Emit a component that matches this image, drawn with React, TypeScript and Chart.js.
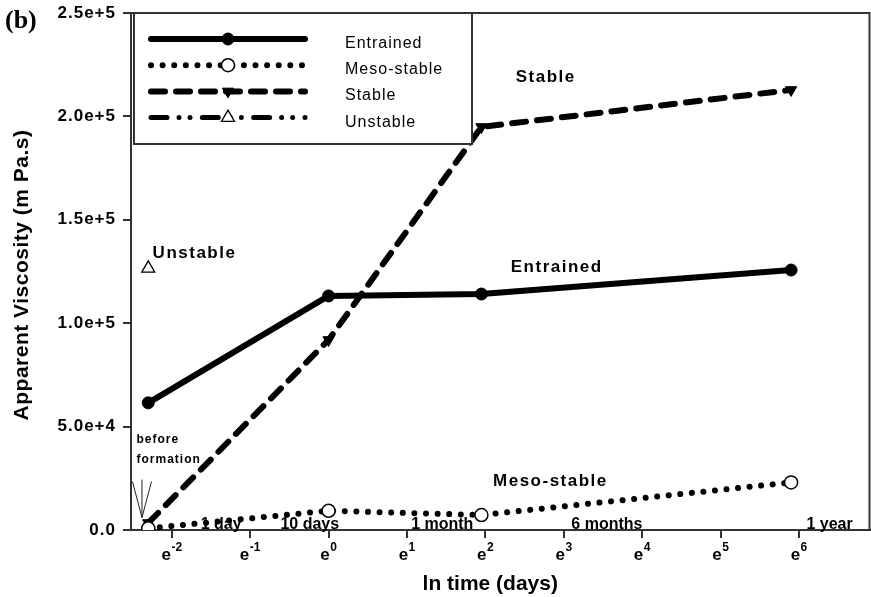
import { useEffect, useRef } from 'react';
import { Chart, registerables } from 'chart.js';

Chart.register(...registerables);

// Sampling times as ln(days): 0.1 day, 1 day, 7 days, 365 days
const timeLn = [-2.3, 0, 1.95, 5.9];

// Apparent viscosity (m Pa.s) of each emulsion type
const entrained = [61500, 113200, 114100, 125700];
const mesoStable = [800, 9300, 7250, 23000];
const stable = [3400, 91900, 194900, 212800];
const unstableTime = [-2.3];
const unstable = [126500];

// Axis ticks
const xTickPowers = [-2, -1, 0, 1, 2, 3, 4, 5, 6];
const yTicks = [0, 50000, 100000, 150000, 200000, 250000];
const yTickLabels = ['0.0', '5.0e+4', '1.0e+5', '1.5e+5', '2.0e+5', '2.5e+5'];

// Calendar hints written along the time axis
const timeMarks = ['1 day', '10 days', '1 month', '6 months', '1 year'];
const timeMarkX = [-1.37, -0.24, 1.45, 3.55, 6.39];

// In-plot curve names
const curveNames = ['Stable', 'Unstable', 'Entrained', 'Meso-stable'];
const curveNameX = [2.77, -1.71, 2.91, 2.83];
const curveNameY = [216600, 131500, 124800, 21300];

// "before formation" note and its arrow
const noteLines = ['before', 'formation'];
const noteX = -2.45;
const noteY = [42100, 32400];
const arrowTip = { x: -2.38, y: 6000 };

const SANS = '"Liberation Sans", Arial, Helvetica, sans-serif';
const SERIF = '"Liberation Serif", "Times New Roman", serif';
const AXIS_COLOR = '#333';

function pts(xs: number[], ys: number[]) {
  return xs.map((x, i) => ({ x, y: ys[i] }));
}

function drawMarker(ctx: CanvasRenderingContext2D, ds: any, x: number, y: number) {
  const r = ds.pointRadius;
  ctx.save();
  ctx.fillStyle = ds.pointBackgroundColor;
  ctx.strokeStyle = ds.pointBorderColor;
  ctx.lineWidth = ds.pointBorderWidth;
  ctx.setLineDash([]);
  ctx.beginPath();
  if (ds.pointStyle === 'triangle') {
    const rot = ((ds.pointRotation || 0) * Math.PI) / 180;
    for (let k = 0; k < 3; k++) {
      const a = rot + (k * 2 * Math.PI) / 3;
      const px = x + Math.sin(a) * r;
      const py = y - Math.cos(a) * r;
      if (k === 0) ctx.moveTo(px, py);
      else ctx.lineTo(px, py);
    }
    ctx.closePath();
  } else {
    ctx.arc(x, y, r, 0, Math.PI * 2);
  }
  ctx.fill();
  ctx.stroke();
  ctx.restore();
}

const decorPlugin = {
  id: 'decor',
  beforeDraw(chart: any) {
    chart.ctx.letterSpacing = '1px';
  },
  afterDraw(chart: any) {
    const ctx: CanvasRenderingContext2D = chart.ctx;
    const { left, right, top, bottom } = chart.chartArea;
    const xs = chart.scales.x;
    const ys = chart.scales.y;
    ctx.save();
    (ctx as any).letterSpacing = '0px';

    // top and right edges of the plot frame
    ctx.strokeStyle = AXIS_COLOR;
    ctx.lineWidth = 2;
    ctx.beginPath();
    ctx.moveTo(left, top);
    ctx.lineTo(right, top);
    ctx.lineTo(right, bottom);
    ctx.stroke();

    // x tick labels: e with a raised exponent
    ctx.fillStyle = '#000';
    ctx.textAlign = 'left';
    ctx.textBaseline = 'alphabetic';
    xTickPowers.forEach((p) => {
      const px = xs.getPixelForValue(p);
      const sup = p < 0 ? '-' + Math.abs(p) : String(p);
      ctx.font = `bold 17px ${SANS}`;
      const we = ctx.measureText('e').width;
      ctx.font = `bold 12px ${SANS}`;
      const wsup = ctx.measureText(sup).width;
      const x0 = px - (we + wsup + 0.5) / 2;
      ctx.font = `bold 17px ${SANS}`;
      ctx.fillText('e', x0, bottom + 30);
      ctx.font = `bold 12px ${SANS}`;
      ctx.fillText(sup, x0 + we + 0.5, bottom + 21);
    });

    // axis titles
    ctx.font = `bold 21px ${SANS}`;
    ctx.textAlign = 'center';
    ctx.fillText('ln time (days)', (left + right) / 2 - 10, bottom + 60);
    ctx.save();
    ctx.translate(28, 275);
    ctx.rotate(-Math.PI / 2);
    (ctx as any).letterSpacing = '0.5px';
    ctx.fillText('Apparent Viscosity (m Pa.s)', 0, 0);
    ctx.restore();

    // panel tag
    ctx.font = `bold 26px ${SERIF}`;
    ctx.textAlign = 'left';
    ctx.fillText('(b)', 5, 28);

    // calendar hints
    ctx.font = `bold 16px ${SANS}`;
    ctx.textAlign = 'center';
    timeMarks.forEach((t, i) => {
      ctx.fillText(t, xs.getPixelForValue(timeMarkX[i]), bottom - 1);
    });

    // curve names
    ctx.font = `bold 17px ${SANS}`;
    (ctx as any).letterSpacing = '1.5px';
    curveNames.forEach((t, i) => {
      ctx.fillText(t, xs.getPixelForValue(curveNameX[i]), ys.getPixelForValue(curveNameY[i]));
    });

    // note with arrow
    ctx.font = `bold 12px ${SANS}`;
    (ctx as any).letterSpacing = '1px';
    ctx.textAlign = 'left';
    noteLines.forEach((t, i) => {
      ctx.fillText(t, xs.getPixelForValue(noteX), ys.getPixelForValue(noteY[i]));
    });
    const tx = xs.getPixelForValue(arrowTip.x);
    const ty = ys.getPixelForValue(arrowTip.y);
    ctx.strokeStyle = '#222';
    ctx.lineWidth = 1;
    ctx.beginPath();
    ctx.moveTo(tx, ty - 38);
    ctx.lineTo(tx, ty);
    ctx.moveTo(tx - 9.5, ty - 36);
    ctx.lineTo(tx, ty);
    ctx.lineTo(tx + 9.5, ty - 36);
    ctx.stroke();

    // legend box
    const lx = left + 3;
    const ly = top;
    const lw = 338;
    const lh = 131;
    ctx.fillStyle = '#fff';
    ctx.fillRect(lx, ly, lw, lh);
    ctx.strokeStyle = AXIS_COLOR;
    ctx.lineWidth = 2;
    ctx.strokeRect(lx, ly, lw, lh);

    const datasets = chart.data.datasets;
    datasets.forEach((ds: any, i: number) => {
      const ry = ly + 26 + i * 26.2;
      ctx.save();
      ctx.strokeStyle = ds.borderColor;
      ctx.lineWidth = ds.borderWidth;
      ctx.lineCap = 'round';
      ctx.setLineDash(ds.borderDash || []);
      ctx.beginPath();
      ctx.moveTo(lx + 17, ry);
      ctx.lineTo(lx + 171, ry);
      ctx.stroke();
      ctx.restore();
      drawMarker(ctx, ds, lx + 94, ry);
      ctx.fillStyle = '#000';
      ctx.font = `16px ${SANS}`;
      (ctx as any).letterSpacing = '1px';
      ctx.textAlign = 'left';
      ctx.fillText(ds.label, lx + 211, ry + 9);
    });

    ctx.restore();
  },
};

export default function App() {
  const canvasRef = useRef<HTMLCanvasElement | null>(null);

  useEffect(() => {
    const canvas = canvasRef.current;
    if (!canvas) return;
    Chart.defaults.font.family = SANS;

    const axisGrid = {
      drawOnChartArea: false,
      drawTicks: true,
      tickLength: 8,
      color: AXIS_COLOR,
      lineWidth: 2,
    };

    const chart = new Chart(canvas, {
      type: 'line',
      data: {
        datasets: [
          {
            label: 'Entrained',
            data: pts(timeLn, entrained),
            borderColor: '#000',
            backgroundColor: '#000',
            borderWidth: 6,
            borderCapStyle: 'round',
            borderJoinStyle: 'round',
            pointStyle: 'circle',
            pointRadius: 6,
            pointBorderWidth: 1,
            pointBackgroundColor: '#000',
            pointBorderColor: '#000',
          },
          {
            label: 'Meso-stable',
            data: pts(timeLn, mesoStable),
            borderColor: '#000',
            backgroundColor: '#fff',
            borderWidth: 6,
            borderDash: [0.01, 11.6],
            borderCapStyle: 'round',
            borderJoinStyle: 'round',
            pointStyle: 'circle',
            pointRadius: 6.5,
            pointBorderWidth: 1.5,
            pointBackgroundColor: '#fff',
            pointBorderColor: '#000',
          },
          {
            label: 'Stable',
            data: pts(timeLn, stable),
            borderColor: '#000',
            backgroundColor: '#000',
            borderWidth: 6,
            borderDash: [14, 11],
            borderCapStyle: 'round',
            borderJoinStyle: 'round',
            pointStyle: 'triangle',
            pointRotation: 180,
            pointRadius: 6.5,
            pointBorderWidth: 1,
            pointBackgroundColor: '#000',
            pointBorderColor: '#000',
          },
          {
            label: 'Unstable',
            data: pts(unstableTime, unstable),
            borderColor: '#000',
            backgroundColor: '#fff',
            borderWidth: 5,
            borderDash: [16, 12, 0.01, 11, 0.01, 12.3],
            borderCapStyle: 'round',
            pointStyle: 'triangle',
            pointRadius: 7.5,
            pointBorderWidth: 1.3,
            pointBackgroundColor: '#fff',
            pointBorderColor: '#000',
          },
        ],
      } as any,
      options: {
        animation: false,
        responsive: false,
        layout: { autoPadding: false, padding: { top: 13, right: 1.5, left: 0, bottom: 0 } },
        plugins: {
          legend: { display: false },
          tooltip: { enabled: false },
        },
        scales: {
          x: {
            type: 'linear',
            min: -2.52,
            max: 6.9,
            afterBuildTicks: (s: any) => {
              s.ticks = xTickPowers.map((v) => ({ value: v }));
            },
            afterFit: (s: any) => {
              s.height = 67;
              s.paddingLeft = 0;
              s.paddingRight = 0;
            },
            grid: axisGrid,
            border: { display: true, color: AXIS_COLOR, width: 2 },
            ticks: { callback: () => '' },
          },
          y: {
            type: 'linear',
            min: 0,
            max: 250000,
            afterBuildTicks: (s: any) => {
              s.ticks = yTicks.map((v) => ({ value: v }));
            },
            afterFit: (s: any) => {
              s.width = 131;
              s.paddingTop = 0;
              s.paddingBottom = 0;
            },
            grid: axisGrid,
            border: { display: true, color: AXIS_COLOR, width: 2 },
            ticks: {
              padding: 7,
              color: '#000',
              font: { family: SANS, size: 17, weight: 'bold' },
              callback: (v: any) => {
                const i = yTicks.indexOf(Number(v));
                return i >= 0 ? yTickLabels[i] : '';
              },
            },
          },
        },
      } as any,
      plugins: [decorPlugin],
    });

    return () => chart.destroy();
  }, []);

  return (
    <canvas
      ref={canvasRef}
      width={871}
      height={597}
      style={{ position: 'fixed', left: 0, top: 0, display: 'block', background: '#fff' }}
    />
  );
}
